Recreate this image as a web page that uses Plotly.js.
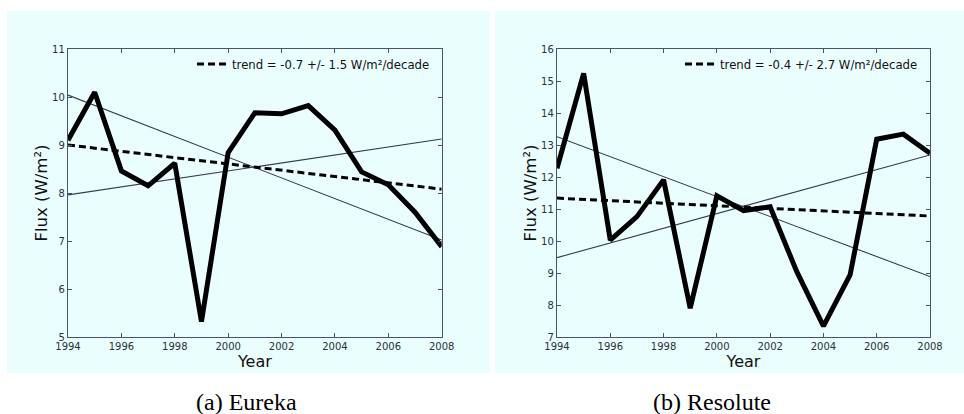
<!DOCTYPE html>
<html>
<head>
<meta charset="utf-8">
<script src="https://cdn.plot.ly/plotly-3.0.1.min.js"></script>
<style>html,body{margin:0;padding:0;background:#fff;}#chart{width:964px;height:414px;}</style>
</head>
<body>
<div id="chart"></div>
<script>
// ---- data ----
const years = [1994,1995,1996,1997,1998,1999,2000,2001,2002,2003,2004,2005,2006,2007,2008];
const eurekaFlux = [9.10,10.10,8.46,8.15,8.62,5.32,8.84,9.67,9.65,9.82,9.31,8.44,8.17,7.60,6.88];
const resoluteFlux = [12.27,15.24,10.03,10.76,11.91,7.90,11.41,10.95,11.07,9.04,7.34,8.94,13.18,13.34,12.74];
const trendYears = [1994, 2008];
const eurekaTrend = [9.00, 8.08];
const eurekaUpper = [10.04, 7.02];
const eurekaLower = [7.96, 9.125];
const resoluteTrend = [11.34, 10.78];
const resoluteUpper = [13.26, 8.89];
const resoluteLower = [9.48, 12.69];
const eurekaLabel = "trend = -0.7 +/- 1.5 W/m²/decade";
const resoluteLabel = "trend = -0.4 +/- 2.7 W/m²/decade";
const captions = ["(a) Eureka", "(b) Resolute"];
const xTicks = [1994,1996,1998,2000,2002,2004,2006,2008];

// ---- geometry (pixels) ----
const W = 964, H = 414;
const M = {l: 68, r: 34, t: 49, b: 77};
const PW = W - M.l - M.r, PH = H - M.t - M.b;
const px = x => (x - M.l) / PW;
const py = y => (H - M.b - y) / PH;

const frame = '#4a5468';
const thin = '#353c4a';
const tickFont = {family: 'DejaVu Sans', size: 10, color: '#2a2f3a'};

function mkTraces(xa, ya, flux, trend, up, lo, label, legendId) {
  return [
    {x: trendYears, y: up, xaxis: xa, yaxis: ya, mode: 'lines', line: {color: thin, width: 1.1}, showlegend: false, hoverinfo: 'skip'},
    {x: trendYears, y: lo, xaxis: xa, yaxis: ya, mode: 'lines', line: {color: thin, width: 1.1}, showlegend: false, hoverinfo: 'skip'},
    {x: trendYears, y: trend, xaxis: xa, yaxis: ya, mode: 'lines', name: label, legend: legendId,
     line: {color: '#000', width: 3, dash: '7px,4px'}, showlegend: true},
    {x: years, y: flux, xaxis: xa, yaxis: ya, mode: 'lines', line: {color: '#000', width: 5}, showlegend: false}
  ];
}

const data = [].concat(
  mkTraces('x', 'y', eurekaFlux, eurekaTrend, eurekaUpper, eurekaLower, eurekaLabel, 'legend'),
  mkTraces('x2', 'y2', resoluteFlux, resoluteTrend, resoluteUpper, resoluteLower, resoluteLabel, 'legend2')
);

function xAxis(domain, anchor) {
  return {domain: domain, anchor: anchor, range: [1994, 2008], tickvals: xTicks,
    ticks: 'inside', ticklen: 4, tickcolor: frame, mirror: 'allticks', showline: true, linecolor: frame, linewidth: 1.2,
    showgrid: false, zeroline: false, tickfont: tickFont,
    title: {text: 'Year', font: {family: 'DejaVu Sans', size: 16, color: '#111'}, standoff: 0}};
}
function yAxis(range, dtick, anchor) {
  return {domain: [0, 1], anchor: anchor, range: range, dtick: dtick,
    ticks: 'inside', ticklen: 4, tickcolor: frame, mirror: 'allticks', showline: true, linecolor: frame, linewidth: 1.2,
    showgrid: false, zeroline: false, tickfont: tickFont,
    title: {text: 'Flux (W/m²)', font: {family: 'DejaVu Sans', size: 16.5, color: '#111'}, standoff: 0}};
}

const bg = '#ebfefe';
const legendFont = {family: 'DejaVu Sans', size: 11.7, color: '#111'};
const layout = {
  width: W, height: H, margin: M,
  paper_bgcolor: '#ffffff', plot_bgcolor: 'rgba(0,0,0,0)',
  xaxis: xAxis([px(68), px(441.7)], 'y'),
  yaxis: yAxis([5, 11], 1, 'x'),
  xaxis2: xAxis([px(557), px(930)], 'y2'),
  yaxis2: yAxis([7, 16], 1, 'x2'),
  legend: {x: px(192), y: py(64), xanchor: 'left', yanchor: 'middle', bgcolor: 'rgba(0,0,0,0)',
    font: legendFont, itemwidth: 30},
  legend2: {x: px(680), y: py(64), xanchor: 'left', yanchor: 'middle', bgcolor: 'rgba(0,0,0,0)',
    font: legendFont, itemwidth: 30},
  shapes: [
    {type: 'rect', xref: 'paper', yref: 'paper', x0: px(7), x1: px(490), y0: py(373), y1: py(11), fillcolor: bg, line: {width: 0}, layer: 'below'},
    {type: 'rect', xref: 'paper', yref: 'paper', x0: px(495), x1: px(964), y0: py(373), y1: py(11), fillcolor: bg, line: {width: 0}, layer: 'below'}
  ],
  annotations: [
    {xref: 'paper', yref: 'paper', x: px(246), y: py(402), text: captions[0], showarrow: false,
     font: {family: 'Liberation Serif', size: 24, color: '#000'}, xanchor: 'center', yanchor: 'middle'},
    {xref: 'paper', yref: 'paper', x: px(712), y: py(402), text: captions[1], showarrow: false,
     font: {family: 'Liberation Serif', size: 24, color: '#000'}, xanchor: 'center', yanchor: 'middle'}
  ]
};

Plotly.newPlot('chart', data, layout, {staticPlot: true, displayModeBar: false});
</script>
</body>
</html>
